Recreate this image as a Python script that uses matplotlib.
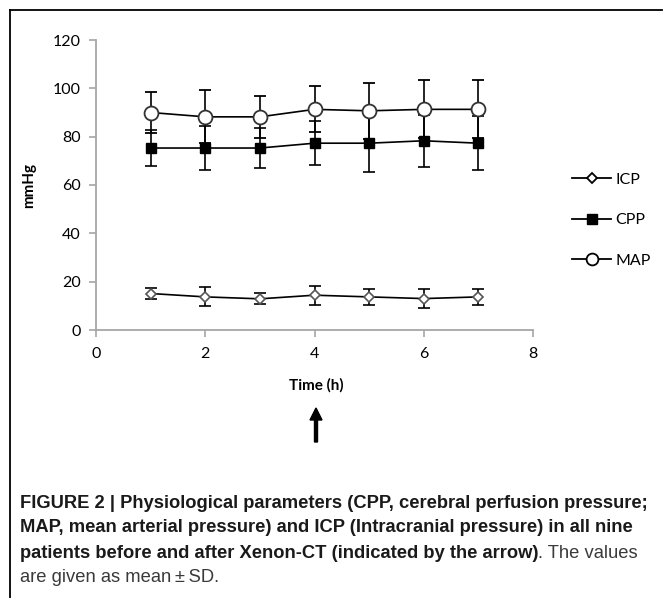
import numpy as np
import matplotlib
matplotlib.use('Agg')
import matplotlib.pyplot as plt
from matplotlib.lines import Line2D

# data (mean and SD, mmHg)
hours = [1, 2, 3, 4, 5, 6, 7]
icp = [15.1, 13.7, 12.9, 14.4, 13.7, 13.0, 13.7]
icp_sd = [2.3, 3.9, 2.3, 3.9, 3.2, 3.9, 3.2]
cpp = [75.3, 75.3, 75.3, 77.3, 77.3, 78.3, 77.3]
cpp_sd = [7.6, 9.1, 8.4, 9.0, 11.8, 10.7, 11.1]
map_ = [90.0, 88.2, 88.2, 91.3, 90.7, 91.3, 91.3]
map_sd = [8.5, 11.0, 8.6, 9.5, 11.6, 12.0, 12.0]

xticks = [0, 2, 4, 6, 8]
yticks = [0, 20, 40, 60, 80, 100, 120]

W, H = 663, 598
fig = plt.figure(figsize=(W / 100, H / 100), dpi=100)
ax = fig.add_axes([96 / W, 1 - 330 / H, (533 - 96) / W, (330 - 40) / H])

tick_font = ['Lato', 'DejaVu Sans']
axis_grey = '#a6a6a6'

eb = dict(color='black', lw=1.2, capsize=4.5, capthick=1.2, elinewidth=1.2)
ax.errorbar(hours, icp, yerr=icp_sd, marker='D', ms=5, mfc='white', mec='#555555',
            mew=1.2, zorder=3, **eb)
ax.errorbar(hours, cpp, yerr=cpp_sd, marker='s', ms=7.5, mfc='black', mec='black',
            zorder=4, **eb)
ax.errorbar(hours, map_, yerr=map_sd, marker='o', ms=10, mfc='white', mec='#333333',
            mew=1.3, zorder=5, **eb)

ax.set_xlim(0, 8)
ax.set_ylim(0, 120)
ax.set_xticks(xticks)
ax.set_yticks(yticks)
for s in ['top', 'right']:
    ax.spines[s].set_visible(False)
for s in ['left', 'bottom']:
    ax.spines[s].set_color(axis_grey)
    ax.spines[s].set_linewidth(1.3)
ax.tick_params(colors=axis_grey, width=1.2, length=5, labelcolor='black', labelsize=11.5)
for lab in ax.get_xticklabels() + ax.get_yticklabels():
    lab.set_family(tick_font)
ax.tick_params(axis='y', pad=6)
ax.tick_params(axis='x', pad=7)

fig.text(29 / W, 1 - 185 / H, 'mmHg', rotation=90, ha='center', va='center',
         fontsize=11, fontweight='bold', family=tick_font)
fig.text(316 / W, 1 - 385 / H, 'Time (h)', ha='center', va='center',
         fontsize=11, fontweight='bold', family=tick_font)

# arrow marking the Xenon-CT
fig.patches.append(matplotlib.patches.FancyArrow(
    316 / W, 1 - 442 / H, 0, 34 / H, width=3 / W, head_width=12 / W,
    head_length=12 / H, length_includes_head=True, color='black',
    transform=fig.transFigure, figure=fig))

handles = [
    Line2D([], [], color='black', lw=1.3, marker='D', ms=5, mfc='white', mec='black', mew=1.3),
    Line2D([], [], color='black', lw=1.3, marker='s', ms=7.5, mfc='black', mec='black'),
    Line2D([], [], color='black', lw=1.3, marker='o', ms=8.5, mfc='white', mec='black', mew=1.3),
]
leg = fig.legend(handles, ['ICP', 'CPP', 'MAP'], loc='upper left',
                 bbox_to_anchor=(566 / W, 1 - 166 / H), frameon=False,
                 prop={'family': tick_font, 'size': 11.5}, handlelength=2.4,
                 handletextpad=0.3, labelspacing=1.65, borderaxespad=0)

# frame lines (top and left) of the figure panel
fig.add_artist(Line2D([10 / W, 10 / W], [0, 1 - 10 / H], color='black', lw=1.3,
                      transform=fig.transFigure))
fig.add_artist(Line2D([10 / W, 662 / W], [1 - 10 / H, 1 - 10 / H], color='black', lw=1.3,
                      transform=fig.transFigure))

# caption
cap_font = ['Liberation Sans', 'DejaVu Sans']
x0 = 20 / W
lines_y = [503, 528, 553, 577]
bold_col = '#1a1a1a'
reg_col = '#3a3a3a'
line1 = 'FIGURE 2 | Physiological parameters (CPP, cerebral perfusion pressure;'

# size the caption so the first line spans the same width as in the figure
probe = fig.text(0, 0, line1, fontsize=10, fontweight='bold', family=cap_font)
fig.canvas.draw()
w10 = probe.get_window_extent(fig.canvas.get_renderer()).width
probe.remove()
cap_size = 10 * 628 / w10

fig.text(x0, 1 - lines_y[0] / H, line1,
         fontsize=cap_size, fontweight='bold', family=cap_font, color=bold_col, va='center')
fig.text(x0, 1 - lines_y[1] / H,
         'MAP, mean arterial pressure) and ICP (Intracranial pressure) in all nine',
         fontsize=cap_size, fontweight='bold', family=cap_font, color=bold_col, va='center')
t3 = fig.text(x0, 1 - lines_y[2] / H,
              'patients before and after Xenon-CT (indicated by the arrow)',
              fontsize=cap_size, fontweight='bold', family=cap_font, color=bold_col, va='center')
fig.canvas.draw()
bb = t3.get_window_extent(fig.canvas.get_renderer())
fig.text(bb.x1 / W, 1 - lines_y[2] / H, '. The values',
         fontsize=cap_size, family=cap_font, color=reg_col, va='center')
fig.text(x0, 1 - lines_y[3] / H, 'are given as mean\u2009\u00b1\u2009SD.',
         fontsize=cap_size, family=cap_font, color=reg_col, va='center')

fig.savefig('out.png', dpi=100)
